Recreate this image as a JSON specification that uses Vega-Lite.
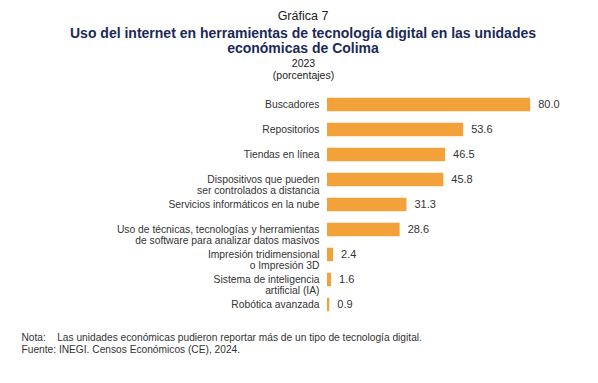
{
  "$schema": "https://vega.github.io/schema/vega-lite/v6.json",
  "autosize": "none",
  "width": 240,
  "height": 225,
  "padding": {"left": 327, "top": 92, "right": 31, "bottom": 66},
  "background": "white",
  "title": {
    "text": "Gráfica 7",
    "subtitle": ["Uso del internet en herramientas de tecnología digital en las unidades", "económicas de Colima"],
    "anchor": "middle",
    "dx": -144,
    "font": "Liberation Sans",
    "fontSize": 12.5,
    "fontWeight": "normal",
    "color": "#222222",
    "subtitleFont": "Liberation Sans",
    "subtitleFontSize": 14,
    "subtitleFontWeight": "bold",
    "subtitleColor": "#1b2a56",
    "subtitleLineHeight": 15.5,
    "subtitlePadding": 4,
    "offset": 2
  },
  "data": {
    "values": [
      {"herramienta": "Buscadores", "valor": 80.0},
      {"herramienta": "Repositorios", "valor": 53.6},
      {"herramienta": "Tiendas en línea", "valor": 46.5},
      {"herramienta": "Dispositivos que pueden|ser controlados a distancia", "valor": 45.8},
      {"herramienta": "Servicios informáticos en la nube", "valor": 31.3},
      {"herramienta": "Uso de técnicas, tecnologías y herramientas|de software para analizar datos masivos", "valor": 28.6},
      {"herramienta": "Impresión tridimensional|o Impresión 3D", "valor": 2.4},
      {"herramienta": "Sistema de inteligencia|artificial (IA)", "valor": 1.6},
      {"herramienta": "Robótica avanzada", "valor": 0.9}
    ]
  },
  "encoding": {
    "y": {
      "field": "herramienta",
      "type": "nominal",
      "sort": "-x",
      "scale": {"paddingInner": 0.46, "paddingOuter": 0.23},
      "axis": {
        "title": null,
        "domain": false,
        "ticks": false,
        "labelExpr": "split(datum.label, '|')",
        "labelFont": "Liberation Sans",
        "labelFontSize": 10.3,
        "labelColor": "#333333",
        "labelLineHeight": 11,
        "labelPadding": 8,
        "labelLimit": 300
      }
    }
  },
  "layer": [
    {
      "mark": {"type": "bar", "color": "#F3A23B"},
      "encoding": {
        "x": {
          "field": "valor",
          "type": "quantitative",
          "scale": {"domain": [0, 94.5], "nice": false},
          "axis": {
            "orient": "top",
            "grid": false,
            "domain": false,
            "ticks": false,
            "labels": false,
            "title": ["2023", "(porcentajes)"],
            "titleFont": "Liberation Sans",
            "titleFontSize": 10.5,
            "titleFontWeight": "normal",
            "titleColor": "#222222",
            "titleLineHeight": 12,
            "titleX": -24,
            "titleAlign": "center",
            "titlePadding": 12
          }
        }
      }
    },
    {
      "mark": {"type": "text", "align": "left", "baseline": "middle", "dx": 8, "font": "Liberation Sans", "fontSize": 11, "color": "#333333"},
      "encoding": {
        "x": {
          "field": "valor",
          "type": "quantitative",
          "axis": {
            "orient": "bottom",
            "grid": false,
            "domain": false,
            "ticks": false,
            "labels": false,
            "title": ["Nota:\u00a0\u00a0\u00a0\u00a0Las unidades económicas pudieron reportar más de un tipo de tecnología digital.", "Fuente:\u00a0INEGI. Censos Económicos (CE), 2024."],
            "titleFont": "Liberation Sans",
            "titleFontSize": 10.2,
            "titleFontWeight": "normal",
            "titleColor": "#333333",
            "titleLineHeight": 12.5,
            "titleX": -306,
            "titleAlign": "left",
            "titleAnchor": "start",
            "titlePadding": 15
          }
        },
        "text": {"field": "valor", "type": "quantitative", "format": ".1f"}
      }
    }
  ],
  "resolve": {"axis": {"x": "independent"}},
  "config": {"view": {"stroke": null}}
}
